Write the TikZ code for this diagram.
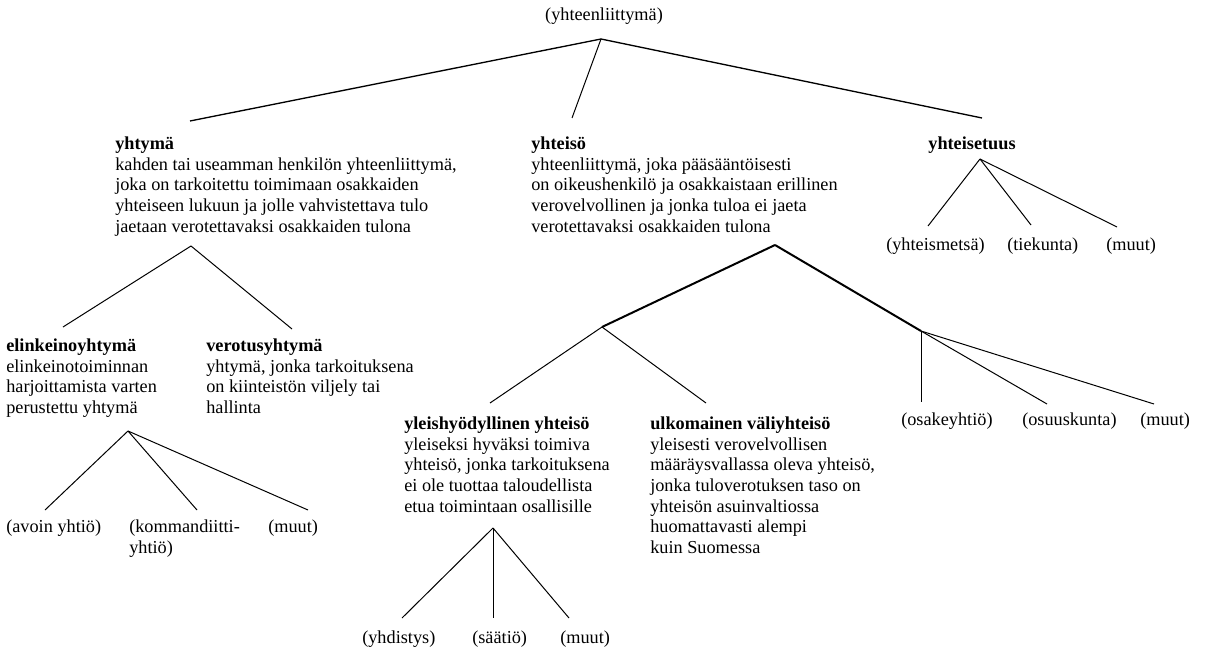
\documentclass[tikz,border=0pt]{standalone}
\usepackage{fontspec}
\setmainfont{Liberation Serif}
\usetikzlibrary{positioning}

\begin{document}
\begin{tikzpicture}[
  x=0.75pt, y=-0.75pt,
  font=\fontsize{13.7}{15.5}\selectfont,
  txt/.style={anchor=north west, align=left, inner sep=0pt},
  leaf/.style={anchor=north west, align=left, inner sep=0pt},
  br/.style={line width=0.75pt},
  trunk/.style={line width=1.5pt},
]
\useasboundingbox (0,0) rectangle (1205,649);

%% ===== ROOT =====
\node[inner sep=0pt, anchor=north] (root) at (604,7.5) {(yhteenliittymä)};
\coordinate (rootfork) at (601,39);

%% ===== LEVEL 1 =====
\node[txt] (yhtyma) at (115,136.5)
    {\textbf{yhtymä}\\
     kahden tai useamman henkilön yhteenliittymä,\\
     joka on tarkoitettu toimimaan osakkaiden\\
     yhteiseen lukuun ja jolle vahvistettava tulo\\
     jaetaan verotettavaksi osakkaiden tulona};

\node[txt] (yhteiso) at (531,136.5)
    {\textbf{yhteisö}\\
     yhteenliittymä, joka pääsääntöisesti\\
     on oikeushenkilö ja osakkaistaan erillinen\\
     verovelvollinen ja jonka tuloa ei jaeta\\
     verotettavaksi osakkaiden tulona};

\node[inner sep=0pt, anchor=north] (yhteisetuus) at (972,136.5)
    {\textbf{yhteisetuus}};

\coordinate (toYhtyma)  at (190,121);
\coordinate (toYhteiso) at (572,118);
\coordinate (toEtuus)   at (982,118);

%% ===== YHTYMÄ BRANCH =====
\coordinate (yhtymafork) at (191,246);
\coordinate (toElink) at (63,327);
\coordinate (toVerot) at (292,329);

\node[txt] (elink) at (6,338.5)
    {\textbf{elinkeinoyhtymä}\\
     elinkeinotoiminnan\\
     harjoittamista varten\\
     perustettu yhtymä};

\node[txt] (verot) at (206,338.5)
    {\textbf{verotusyhtymä}\\
     yhtymä, jonka tarkoituksena\\
     on kiinteistön viljely tai\\
     hallinta};

\coordinate (elinkfork) at (128,431);
\coordinate (toAvoin) at (45,510);
\coordinate (toKomm)  at (197,510);
\coordinate (toMuut1) at (308,510);

\node[leaf] (avoin) at (6,519.5) {(avoin yhtiö)};
\node[leaf] (komm)  at (129,519.5) {(kommandiitti-\\yhtiö)};
\node[leaf] (muut1) at (268,519.5) {(muut)};

%% ===== YHTEISÖ BRANCH =====
\coordinate (yhteisofork) at (775,245);
\coordinate (leftfork)  at (602,327);
\coordinate (rightfork) at (921,331);
\coordinate (toYleis) at (490,403);
\coordinate (toUlko)  at (706,403);

\node[txt] (yleis) at (404,416.5)
    {\textbf{yleishyödyllinen yhteisö}\\
     yleiseksi hyväksi toimiva\\
     yhteisö, jonka tarkoituksena\\
     ei ole tuottaa taloudellista\\
     etua toimintaan osallisille};

\node[txt] (ulko) at (650,416.5)
    {\textbf{ulkomainen väliyhteisö}\\
     yleisesti verovelvollisen\\
     määräysvallassa oleva yhteisö,\\
     jonka tuloverotuksen taso on\\
     yhteisön asuinvaltiossa\\
     huomattavasti alempi\\
     kuin Suomessa};

\coordinate (yleisfork) at (493,528);
\coordinate (toYhd)   at (402,618);
\coordinate (toSaat)  at (493,618);
\coordinate (toMuut2) at (569,618);

\node[leaf] (yhd)   at (362,630.5) {(yhdistys)};
\node[leaf] (saat)  at (472,630.5) {(säätiö)};
\node[leaf] (muut2) at (560,630.5) {(muut)};

\coordinate (toOsake) at (921,402);
\coordinate (toOsuus) at (1047,404);
\coordinate (toMuut3) at (1154,404);

\node[leaf] (osake) at (901,412.5) {(osakeyhtiö)};
\node[leaf] (osuus) at (1022,412.5) {(osuuskunta)};
\node[leaf] (muut3) at (1140,412.5) {(muut)};

%% ===== YHTEISETUUS BRANCH =====
\coordinate (etuusfork) at (980,159);
\coordinate (toMetsa) at (928,226);
\coordinate (toTie)   at (1031,225);
\coordinate (toMuut4) at (1117,227);

\node[leaf] (metsa) at (886,237.5) {(yhteismetsä)};
\node[leaf] (tie)   at (1007,237.5) {(tiekunta)};
\node[leaf] (muut4) at (1106,237.5) {(muut)};

%% ===== CONNECTORS =====
\draw[line width=1pt] (rootfork) -- (toYhtyma);
\draw[br] (rootfork) -- (toYhteiso);
\draw[line width=1pt] (rootfork) -- (toEtuus);

\draw[br] (yhtymafork) -- (toElink);
\draw[br] (yhtymafork) -- (toVerot);
\draw[br] (elinkfork) -- (toAvoin);
\draw[br] (elinkfork) -- (toKomm);
\draw[br] (elinkfork) -- (toMuut1);

\draw[trunk] (yhteisofork) -- (leftfork);
\draw[trunk] (yhteisofork) -- (rightfork);
\draw[br] (leftfork) -- (toYleis);
\draw[br] (leftfork) -- (toUlko);
\draw[br] (yleisfork) -- (toYhd);
\draw[br] (yleisfork) -- (toSaat);
\draw[br] (yleisfork) -- (toMuut2);
\draw[br] (rightfork) -- (toOsake);
\draw[br] (rightfork) -- (toOsuus);
\draw[br] (rightfork) -- (toMuut3);

\draw[br] (etuusfork) -- (toMetsa);
\draw[br] (etuusfork) -- (toTie);
\draw[br] (etuusfork) -- (toMuut4);

\end{tikzpicture}
\end{document}
